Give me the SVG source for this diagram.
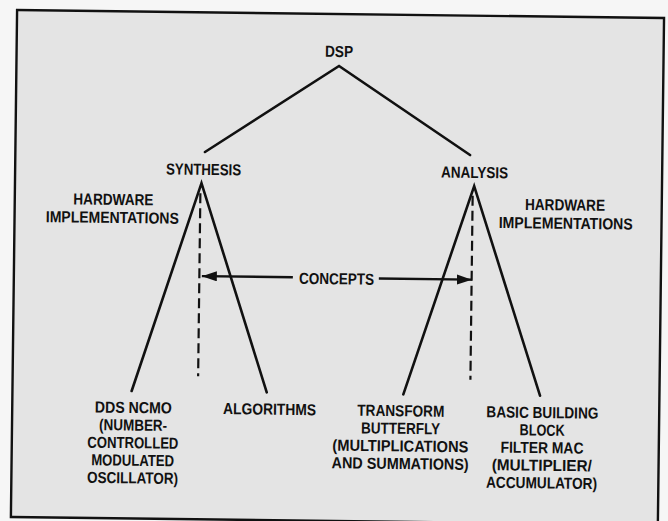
<svg xmlns="http://www.w3.org/2000/svg" width="668" height="521" viewBox="0 0 668 521">
  <defs>
    <style>
      .t { font-family: "Liberation Sans", Arial, sans-serif; font-weight: bold; font-size: 16px; fill: #111; }
      .ln { stroke: #111; stroke-width: 2.6; fill: none; stroke-linecap: round; }
      .dash { stroke: #111; stroke-width: 2.2; fill: none; stroke-dasharray: 10 5; }
      .arr { stroke: #111; stroke-width: 2.4; fill: none; }
    </style>
    <marker id="ah" markerUnits="userSpaceOnUse" markerWidth="16" markerHeight="11" refX="15" refY="5" orient="auto">
      <path d="M0,0 L15,5 L0,10 z" fill="#111"/>
    </marker>
  </defs>
  <rect x="0" y="0" width="668" height="521" fill="#f6f6f6"/>
  <g transform="rotate(0.7 337 265)">
    <rect id="frame" x="14" y="14" width="647" height="507" fill="#e4e4e4" stroke="#111" stroke-width="2.4"/>

    <g id="connectors">
      <path class="ln" d="M203.6,153.6 L336.6,66 L468.7,153.4"/>
      <path class="ln" d="M133.2,393.5 L200.5,184.8 L268.3,393.2"/>
      <path class="ln" d="M404.9,393.5 L473.2,184.4 L541.6,393.2"/>
      <line class="dash" x1="199.5" y1="195" x2="199.5" y2="378"/>
      <line class="dash" x1="471.8" y1="194" x2="471.8" y2="378"/>
      <line class="arr" x1="293" y1="277.8" x2="202" y2="277.8" marker-end="url(#ah)"/>
      <line class="arr" x1="379" y1="278" x2="472" y2="278" marker-end="url(#ah)"/>
    </g>

    <g id="dsp"><text class="t" x="322.5" y="57" textLength="28" lengthAdjust="spacingAndGlyphs">DSP</text></g>
    <g id="synthesis"><text class="t" x="164.9" y="176.6" textLength="75" lengthAdjust="spacingAndGlyphs">SYNTHESIS</text></g>
    <g id="analysis"><text class="t" x="439.9" y="176.3" textLength="67" lengthAdjust="spacingAndGlyphs">ANALYSIS</text></g>
    <g id="hw-left">
      <text class="t" x="72.6" y="207.7" textLength="80" lengthAdjust="spacingAndGlyphs">HARDWARE</text>
      <text class="t" x="45.3" y="225.7" textLength="133" lengthAdjust="spacingAndGlyphs">IMPLEMENTATIONS</text>
    </g>
    <g id="hw-right">
      <text class="t" x="524.3" y="207.7" textLength="80" lengthAdjust="spacingAndGlyphs">HARDWARE</text>
      <text class="t" x="498.2" y="226" textLength="134" lengthAdjust="spacingAndGlyphs">IMPLEMENTATIONS</text>
    </g>
    <g id="concepts"><text class="t" x="299.2" y="284.3" textLength="75" lengthAdjust="spacingAndGlyphs">CONCEPTS</text></g>
    <g id="dds">
      <text class="t" x="96.6" y="415.5" textLength="77" lengthAdjust="spacingAndGlyphs">DDS NCMO</text>
      <text class="t" x="101.1" y="433.1" textLength="68" lengthAdjust="spacingAndGlyphs">(NUMBER-</text>
      <text class="t" x="89.6" y="450.7" textLength="91" lengthAdjust="spacingAndGlyphs">CONTROLLED</text>
      <text class="t" x="93.6" y="468.3" textLength="83" lengthAdjust="spacingAndGlyphs">MODULATED</text>
      <text class="t" x="89.6" y="485.9" textLength="91" lengthAdjust="spacingAndGlyphs">OSCILLATOR)</text>
    </g>
    <g id="algorithms"><text class="t" x="224.8" y="415.5" textLength="93" lengthAdjust="spacingAndGlyphs">ALGORITHMS</text></g>
    <g id="transform">
      <text class="t" x="359.1" y="415.5" textLength="87" lengthAdjust="spacingAndGlyphs">TRANSFORM</text>
      <text class="t" x="363.1" y="433.1" textLength="79" lengthAdjust="spacingAndGlyphs">BUTTERFLY</text>
      <text class="t" x="334.6" y="450.7" textLength="136" lengthAdjust="spacingAndGlyphs">(MULTIPLICATIONS</text>
      <text class="t" x="334.1" y="468.3" textLength="137" lengthAdjust="spacingAndGlyphs">AND SUMMATIONS)</text>
    </g>
    <g id="mac">
      <text class="t" x="488.2" y="415.5" textLength="112" lengthAdjust="spacingAndGlyphs">BASIC BUILDING</text>
      <text class="t" x="521.7" y="433.1" textLength="45" lengthAdjust="spacingAndGlyphs">BLOCK</text>
      <text class="t" x="502.7" y="450.7" textLength="83" lengthAdjust="spacingAndGlyphs">FILTER MAC</text>
      <text class="t" x="494.2" y="468.3" textLength="100" lengthAdjust="spacingAndGlyphs">(MULTIPLIER/</text>
      <text class="t" x="488.7" y="485.9" textLength="111" lengthAdjust="spacingAndGlyphs">ACCUMULATOR)</text>
    </g>
  </g>
</svg>
